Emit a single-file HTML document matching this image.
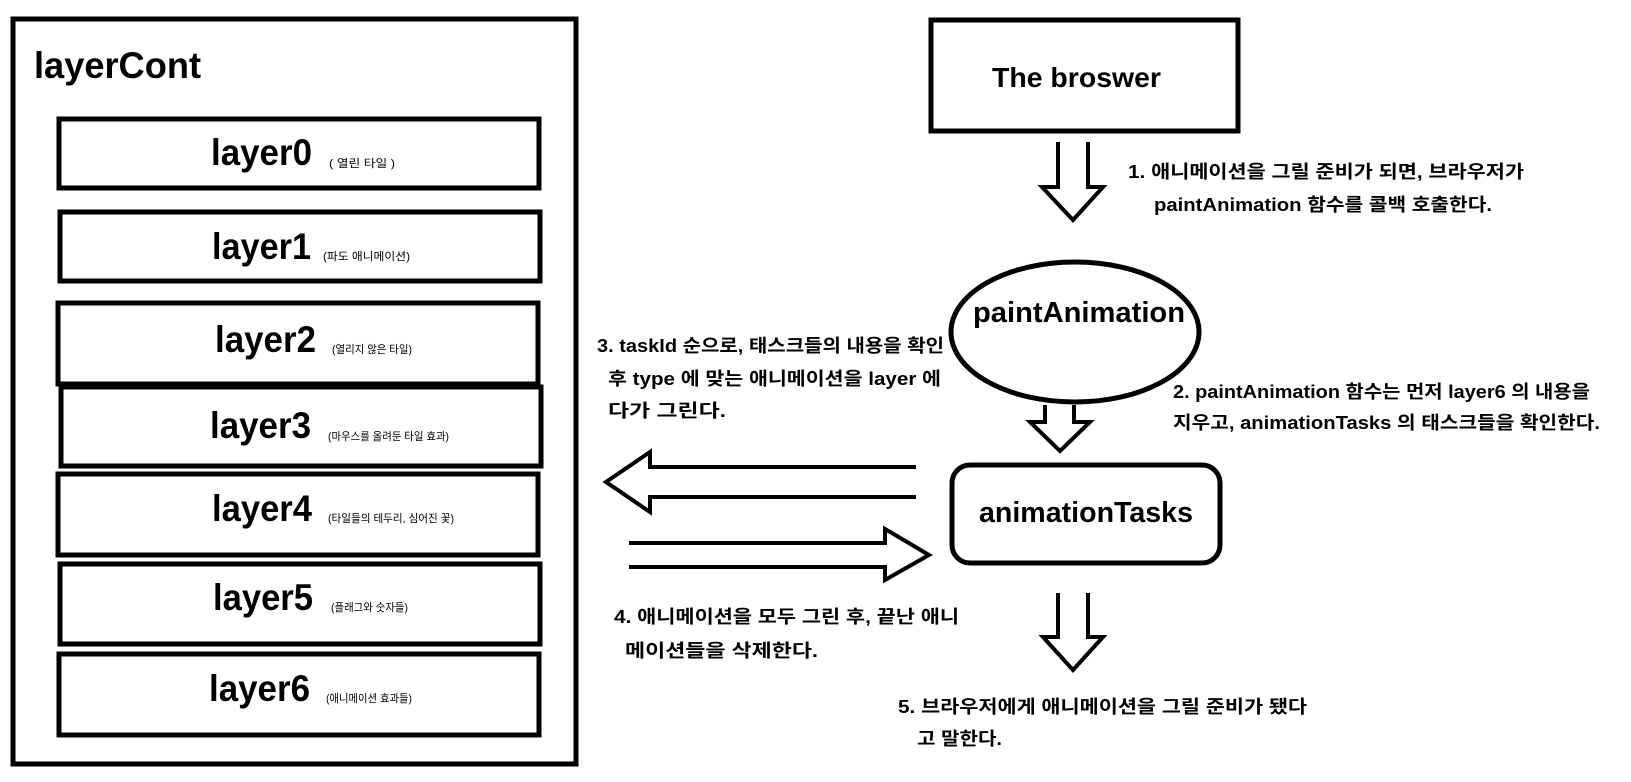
<!DOCTYPE html>
<html><head><meta charset="utf-8"><style>
html,body{margin:0;padding:0;background:#fff;}
svg{display:block;}
text{font-family:"Liberation Sans","Noto Sans CJK KR",sans-serif;font-weight:bold;fill:#000;}
.big{font-size:37px;}
.sm{font-size:11px;font-weight:normal;}
.t{font-size:18px;}
</style></head><body>
<svg width="1631" height="782" viewBox="0 0 1631 782" xmlns="http://www.w3.org/2000/svg">
<g fill="none" stroke="#000" stroke-width="5">
<rect x="13" y="19" width="563" height="745"/>
<rect x="59" y="119" width="480" height="69"/>
<rect x="60" y="212" width="480" height="69"/>
<rect x="58" y="303" width="480" height="81"/>
<rect x="61" y="387" width="480" height="79"/>
<rect x="58" y="474" width="480" height="81"/>
<rect x="60" y="564" width="480" height="80"/>
<rect x="59" y="654" width="480" height="81"/>
<rect x="931" y="20" width="307" height="111"/>
<ellipse cx="1075" cy="332" rx="124" ry="70"/>
<rect x="952" y="465" width="268" height="98" rx="18"/>
</g>
<g fill="none" stroke="#000" stroke-width="4" stroke-linejoin="miter">
<path d="M1058 142 V187 H1042 L1073 220 L1103 187 H1088 V142"/>
<path d="M1045 405 V422 H1030 L1060 451 L1090 422 H1074 V405"/>
<path d="M1058 593 V637 H1043 L1073 670 L1103 637 H1088 V593"/>
<path d="M916 467 H650 V452 L606 482 L650 512 V497 H916"/>
<path d="M629 543 H885 V529 L929 555 L885 580 V567 H629"/>
</g>
<text class="big" x="34" y="78" textLength="167" lengthAdjust="spacingAndGlyphs">layerCont</text>
<text class="big" x="211" y="165" textLength="101" lengthAdjust="spacingAndGlyphs">layer0</text>
<text class="sm" x="329" y="167" textLength="66" lengthAdjust="spacingAndGlyphs">( 열린 타일 )</text>
<text class="big" x="212" y="259" textLength="99" lengthAdjust="spacingAndGlyphs">layer1</text>
<text class="sm" x="323" y="260" textLength="87" lengthAdjust="spacingAndGlyphs">(파도 애니메이션)</text>
<text class="big" x="215" y="352" textLength="101" lengthAdjust="spacingAndGlyphs">layer2</text>
<text class="sm" x="332" y="353" textLength="80" lengthAdjust="spacingAndGlyphs">(열리지 않은 타일)</text>
<text class="big" x="210" y="438" textLength="101" lengthAdjust="spacingAndGlyphs">layer3</text>
<text class="sm" x="328" y="440" textLength="121" lengthAdjust="spacingAndGlyphs">(마우스를 올려둔 타일 효과)</text>
<text class="big" x="212" y="521" textLength="100" lengthAdjust="spacingAndGlyphs">layer4</text>
<text class="sm" x="328" y="522" textLength="126" lengthAdjust="spacingAndGlyphs">(타일들의 테두리, 심어진 꽃)</text>
<text class="big" x="213" y="610" textLength="100" lengthAdjust="spacingAndGlyphs">layer5</text>
<text class="sm" x="331" y="611" textLength="77" lengthAdjust="spacingAndGlyphs">(플래그와 숫자들)</text>
<text class="big" x="209" y="701" textLength="101" lengthAdjust="spacingAndGlyphs">layer6</text>
<text class="sm" x="326" y="702" textLength="86" lengthAdjust="spacingAndGlyphs">(애니메이션 효과들)</text>
<text x="992" y="87" style="font-size:28px" textLength="169" lengthAdjust="spacingAndGlyphs">The broswer</text>
<text x="973" y="322" style="font-size:29px" textLength="212" lengthAdjust="spacingAndGlyphs">paintAnimation</text>
<text x="979" y="522" style="font-size:29px" textLength="214" lengthAdjust="spacingAndGlyphs">animationTasks</text>
<text class="t" x="1128" y="178" textLength="396" lengthAdjust="spacingAndGlyphs">1. 애니메이션을 그릴 준비가 되면, 브라우저가</text>
<text class="t" x="1154" y="211" textLength="338" lengthAdjust="spacingAndGlyphs">paintAnimation 함수를 콜백 호출한다.</text>
<text class="t" x="1173" y="398" textLength="417" lengthAdjust="spacingAndGlyphs">2. paintAnimation 함수는 먼저 layer6 의 내용을</text>
<text class="t" x="1173" y="429" textLength="427" lengthAdjust="spacingAndGlyphs">지우고, animationTasks 의 태스크들을 확인한다.</text>
<text class="t" x="597" y="352" textLength="347" lengthAdjust="spacingAndGlyphs">3. taskId 순으로, 태스크들의 내용을 확인</text>
<text class="t" x="608" y="385" textLength="333" lengthAdjust="spacingAndGlyphs">후 type 에 맞는 애니메이션을 layer 에</text>
<text class="t" x="608" y="417" textLength="118" lengthAdjust="spacingAndGlyphs">다가 그린다.</text>
<text class="t" x="614" y="623" textLength="345" lengthAdjust="spacingAndGlyphs">4. 애니메이션을 모두 그린 후, 끝난 애니</text>
<text class="t" x="625" y="657" textLength="193" lengthAdjust="spacingAndGlyphs">메이션들을 삭제한다.</text>
<text class="t" x="898" y="713" textLength="409" lengthAdjust="spacingAndGlyphs">5. 브라우저에게 애니메이션을 그릴 준비가 됐다</text>
<text class="t" x="917" y="745" textLength="85" lengthAdjust="spacingAndGlyphs">고 말한다.</text>
</svg>
</body></html>
